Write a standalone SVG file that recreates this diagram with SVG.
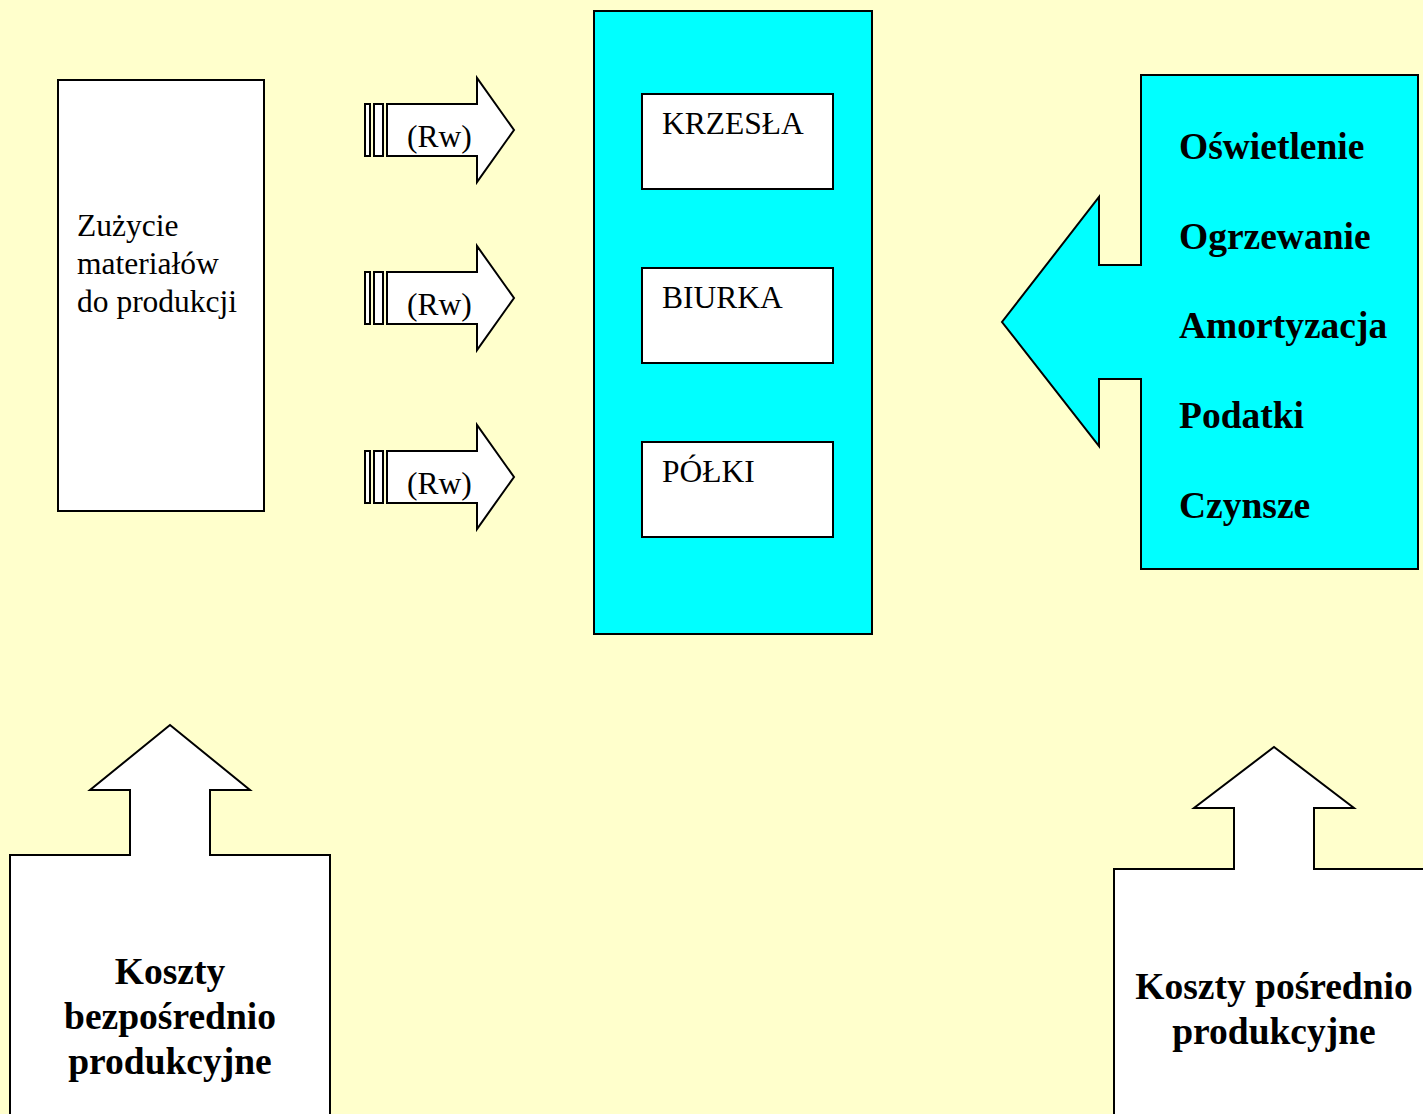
<svg xmlns="http://www.w3.org/2000/svg" width="1423" height="1114" viewBox="0 0 1423 1114">
<style>
.ln{stroke:#000;stroke-width:2;stroke-linejoin:miter}
.w{fill:#fff}
.c{fill:#00ffff}
.t{font-family:"Liberation Serif","Times New Roman",serif;font-size:31.5px;fill:#000}
.b{font-family:"Liberation Serif","Times New Roman",serif;font-size:37.5px;font-weight:bold;fill:#000}
</style>
<defs>
<g id="rw">
<rect x="365" y="-26" width="5" height="52" class="ln w"/>
<rect x="374" y="-26" width="9" height="52" class="ln w"/>
<polygon points="387,-26 477,-26 477,-52 514,0 477,52 477,26 387,26" class="ln w"/>
</g>
</defs>
<rect x="0" y="0" width="1423" height="1114" fill="#ffffcc"/>

<g id="material">
<rect x="58" y="80" width="206" height="431" class="ln w"/>
<text class="t" x="77" y="236">Zużycie</text>
<text class="t" x="77" y="274">materiałów</text>
<text class="t" x="77" y="312">do produkcji</text>
</g>

<g id="connectors">
<g id="rw1" transform="translate(0,130)"><use href="#rw"/><text class="t" x="407" y="17">(Rw)</text></g>
<g id="rw2" transform="translate(0,298)"><use href="#rw"/><text class="t" x="407" y="17">(Rw)</text></g>
<g id="rw3" transform="translate(0,477)"><use href="#rw"/><text class="t" x="407" y="17">(Rw)</text></g>
</g>

<g id="products">
<rect x="594" y="11" width="278" height="623" class="ln c"/>
<g id="krzesla"><rect x="642" y="94" width="191" height="95" class="ln w"/><text class="t" x="662" y="134">KRZESŁA</text></g>
<g id="biurka"><rect x="642" y="268" width="191" height="95" class="ln w"/><text class="t" x="662" y="308">BIURKA</text></g>
<g id="polki"><rect x="642" y="442" width="191" height="95" class="ln w"/><text class="t" x="662" y="482">PÓŁKI</text></g>
</g>

<g id="indirect-items">
<polygon points="1141,75 1418,75 1418,569 1141,569 1141,379 1099,379 1099,446 1002,322 1099,197 1099,265 1141,265" class="ln c"/>
<text class="b" x="1179" y="159">Oświetlenie</text>
<text class="b" x="1179" y="249">Ogrzewanie</text>
<text class="b" x="1179" y="338">Amortyzacja</text>
<text class="b" x="1179" y="428">Podatki</text>
<text class="b" x="1179" y="518">Czynsze</text>
</g>

<g id="direct-costs">
<polygon points="10,1120 10,855 130,855 130,790 90,790 170,725 250,790 210,790 210,855 330,855 330,1120" class="ln w"/>
<text class="b" x="170" y="984" text-anchor="middle">Koszty</text>
<text class="b" x="170" y="1029" text-anchor="middle">bezpośrednio</text>
<text class="b" x="170" y="1074" text-anchor="middle">produkcyjne</text>
</g>

<g id="indirect-costs">
<polygon points="1114,1120 1114,869 1234,869 1234,808 1194,808 1274,747 1354,808 1314,808 1314,869 1430,869 1430,1120" class="ln w"/>
<text class="b" x="1274" y="999" text-anchor="middle">Koszty pośrednio</text>
<text class="b" x="1274" y="1044" text-anchor="middle">produkcyjne</text>
</g>
</svg>
